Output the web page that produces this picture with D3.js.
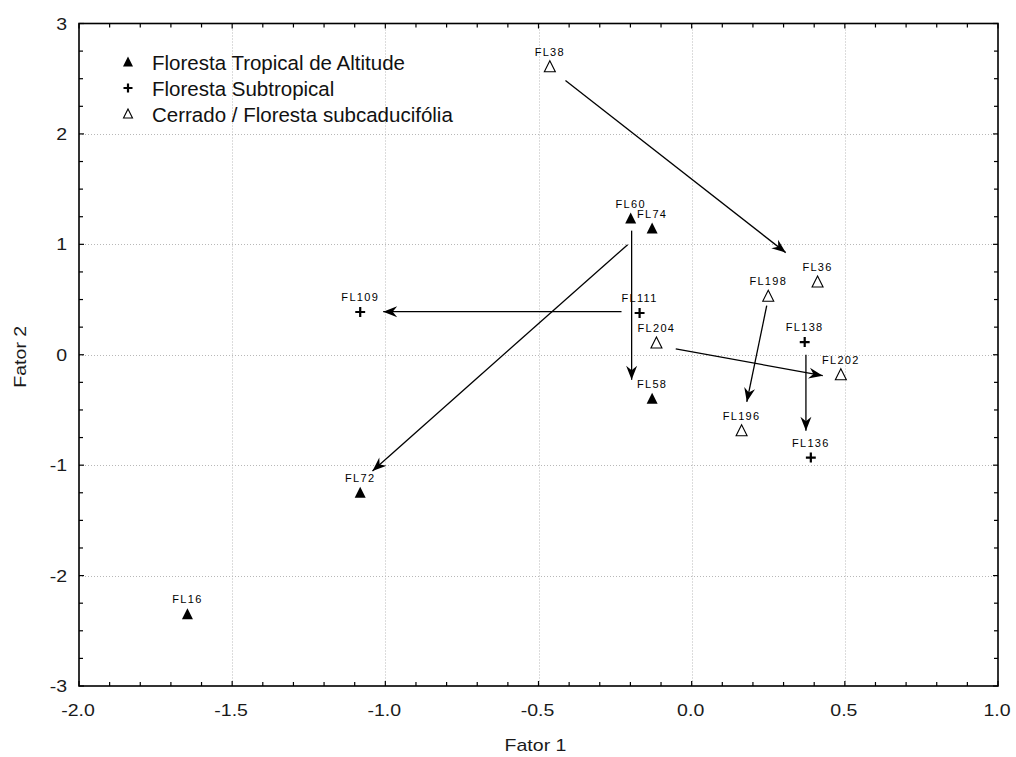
<!DOCTYPE html>
<html>
<head>
<meta charset="utf-8">
<script src="https://cdn.jsdelivr.net/npm/d3@7"></script>
<style>
  html, body { margin: 0; padding: 0; background: #fff; }
  svg { display: block; font-family: Arial, "Liberation Sans", sans-serif; }
</style>
</head>
<body>
<svg id="chart" width="1016" height="757"></svg>
<script>
// Groups shown in the legend
const groups = ["Floresta Tropical de Altitude", "Floresta Subtropical", "Cerrado / Floresta subcaducifólia"];
const groupSymbols = ["filledTriangle", "plus", "openTriangle"];

// Sites: names, factor scores and group index
const siteNames = ["FL38", "FL60", "FL74", "FL109", "FL111", "FL204", "FL58", "FL36", "FL198", "FL138", "FL202", "FL196", "FL136", "FL72", "FL16"];
const fator1 = [-0.463, -0.199, -0.129, -1.082, -0.170, -0.115, -0.129, 0.411, 0.250, 0.369, 0.487, 0.163, 0.389, -1.082, -1.646];
const fator2 = [2.608, 1.233, 1.142, 0.387, 0.378, 0.106, -0.400, 0.659, 0.529, 0.115, -0.181, -0.689, -0.931, -1.251, -2.351];
const siteGroup = [2, 0, 0, 1, 1, 2, 0, 2, 2, 1, 2, 2, 1, 0, 0];

// Arrows between positions (factor coordinates)
const arrowX1 = [-0.412, -0.196, -0.209, -0.229, -0.052, 0.245, 0.373];
const arrowY1 = [2.484, 1.124, 0.997, 0.390, 0.054, 0.444, 0.000];
const arrowX2 = [0.307, -0.196, -1.042, -1.007, 0.428, 0.180, 0.373];
const arrowY2 = [0.925, -0.227, -1.052, 0.390, -0.190, -0.426, -0.689];

// Axis ticks
const xTicks = [-2.0, -1.5, -1.0, -0.5, 0.0, 0.5, 1.0];
const xTickLabels = ["-2.0", "-1.5", "-1.0", "-0.5", "0.0", "0.5", "1.0"];
const yTicks = [-3, -2, -1, 0, 1, 2, 3];
const yTickLabels = ["-3", "-2", "-1", "0", "1", "2", "3"];
const xLabel = "Fator 1";
const yLabel = "Fator 2";

const svg = d3.select("#chart");
const plotLeft = 79, plotRight = 998, plotTop = 23.5, plotBottom = 686;
const axisText = "#1a1a1a";
const stretch = 1.22;

const x = d3.scaleLinear().domain([-2, 1]).range([plotLeft, plotRight]);
const y = d3.scaleLinear().domain([-3, 3]).range([plotBottom, plotTop]);

// Grid
const grid = svg.append("g").attr("stroke", "#b8b8b8").attr("stroke-width", 1).attr("stroke-dasharray", "1,2");
grid.selectAll("line.gx").data(xTicks.slice(1, -1)).join("line")
  .attr("x1", d => Math.round(x(d)) + 0.5).attr("x2", d => Math.round(x(d)) + 0.5)
  .attr("y1", plotTop).attr("y2", plotBottom);
grid.selectAll("line.gy").data(yTicks.slice(1, -1)).join("line")
  .attr("y1", d => Math.round(y(d)) + 0.5).attr("y2", d => Math.round(y(d)) + 0.5)
  .attr("x1", plotLeft).attr("x2", plotRight);

// Inward ticks on all four sides
const xMinor = d3.range(-20, 11).map(i => i / 10);
const yMinor = d3.range(-12, 13).map(i => i / 4);
const ticks = svg.append("g").attr("stroke", "#000").attr("stroke-width", 1.2);
xMinor.forEach(v => {
  const major = Math.abs(v * 2 - Math.round(v * 2)) < 1e-6;
  const len = major ? 5 : 4;
  ticks.append("line").attr("x1", x(v)).attr("x2", x(v)).attr("y1", plotBottom).attr("y2", plotBottom - len);
  ticks.append("line").attr("x1", x(v)).attr("x2", x(v)).attr("y1", plotTop).attr("y2", plotTop + len);
});
yMinor.forEach(v => {
  const major = Math.abs(v - Math.round(v)) < 1e-6;
  const len = major ? 5 : 4;
  ticks.append("line").attr("y1", y(v)).attr("y2", y(v)).attr("x1", plotLeft).attr("x2", plotLeft + len);
  ticks.append("line").attr("y1", y(v)).attr("y2", y(v)).attr("x1", plotRight).attr("x2", plotRight - len);
});

// Frame
svg.append("rect").attr("x", plotLeft).attr("y", plotTop).attr("width", plotRight - plotLeft).attr("height", plotBottom - plotTop)
  .attr("fill", "none").attr("stroke", "#000").attr("stroke-width", 1.6);

// Tick labels (slightly wide lettering)
svg.append("g").selectAll("text").data(xTicks).join("text")
  .attr("transform", d => `translate(${x(d) - 1},${plotBottom + 30}) scale(${stretch},1)`)
  .attr("text-anchor", "middle").attr("font-size", 16).attr("fill", axisText)
  .text((d, i) => xTickLabels[i]);
svg.append("g").selectAll("text").data(yTicks).join("text")
  .attr("transform", d => `translate(${plotLeft - 12},${y(d) + 6}) scale(${stretch},1)`)
  .attr("text-anchor", "end").attr("font-size", 16).attr("fill", axisText)
  .text((d, i) => yTickLabels[i]);

// Axis titles
svg.append("text").attr("transform", `translate(${(plotLeft + plotRight) / 2 - 3},751) scale(${stretch},1)`)
  .attr("text-anchor", "middle").attr("font-size", 16).attr("fill", axisText).text(xLabel);
svg.append("text").attr("transform", `translate(26,${(plotTop + plotBottom) / 2 + 2}) rotate(-90) scale(${stretch},1)`)
  .attr("text-anchor", "middle").attr("font-size", 16).attr("fill", axisText).text(yLabel);

// Symbols
function drawSymbol(g, type, cx, cy, s) {
  if (type === "filledTriangle") {
    g.append("path").attr("d", `M${cx},${cy - s * 0.55} L${cx + s * 0.5},${cy + s * 0.45} L${cx - s * 0.5},${cy + s * 0.45} Z`)
      .attr("fill", "#000");
  } else if (type === "openTriangle") {
    g.append("path").attr("d", `M${cx},${cy - s * 0.55} L${cx + s * 0.5},${cy + s * 0.45} L${cx - s * 0.5},${cy + s * 0.45} Z`)
      .attr("fill", "#fff").attr("stroke", "#000").attr("stroke-width", 1.1);
  } else {
    g.append("path").attr("d", `M${cx - s * 0.45},${cy} H${cx + s * 0.45} M${cx},${cy - s * 0.45} V${cy + s * 0.45}`)
      .attr("stroke", "#000").attr("stroke-width", 2.2).attr("fill", "none");
  }
}

// Arrowhead
const defs = svg.append("defs");
defs.append("marker").attr("id", "head").attr("markerUnits", "userSpaceOnUse")
  .attr("viewBox", "-15 -7 16 14").attr("refX", 0).attr("refY", 0)
  .attr("markerWidth", 16).attr("markerHeight", 14).attr("orient", "auto")
  .append("path").attr("d", "M0,0 L-14,-5.5 L-9.5,0 L-14,5.5 Z").attr("fill", "#000");

svg.append("g").selectAll("line").data(arrowX1).join("line")
  .attr("x1", (d, i) => x(arrowX1[i])).attr("y1", (d, i) => y(arrowY1[i]))
  .attr("x2", (d, i) => x(arrowX2[i])).attr("y2", (d, i) => y(arrowY2[i]))
  .attr("stroke", "#000").attr("stroke-width", 1.3).attr("marker-end", "url(#head)");

// Points and labels
const pts = svg.append("g");
siteNames.forEach((name, i) => {
  const cx = x(fator1[i]), cy = y(fator2[i]);
  drawSymbol(pts, groupSymbols[siteGroup[i]], cx, cy, 11);
  pts.append("text").attr("x", cx).attr("y", cy - 11)
    .attr("text-anchor", "middle").attr("font-size", 11).attr("letter-spacing", 1.3)
    .attr("fill", "#000").text(name);
});

// Legend
const legend = svg.append("g");
groups.forEach((gname, i) => {
  const ly = 62 + i * 26;
  drawSymbol(legend, groupSymbols[i], 128, ly, i === 2 ? 9 : 10);
  legend.append("text").attr("x", 152).attr("y", ly + 7.5)
    .attr("font-size", 20.5).attr("fill", "#111").text(gname);
});
</script>
</body>
</html>
